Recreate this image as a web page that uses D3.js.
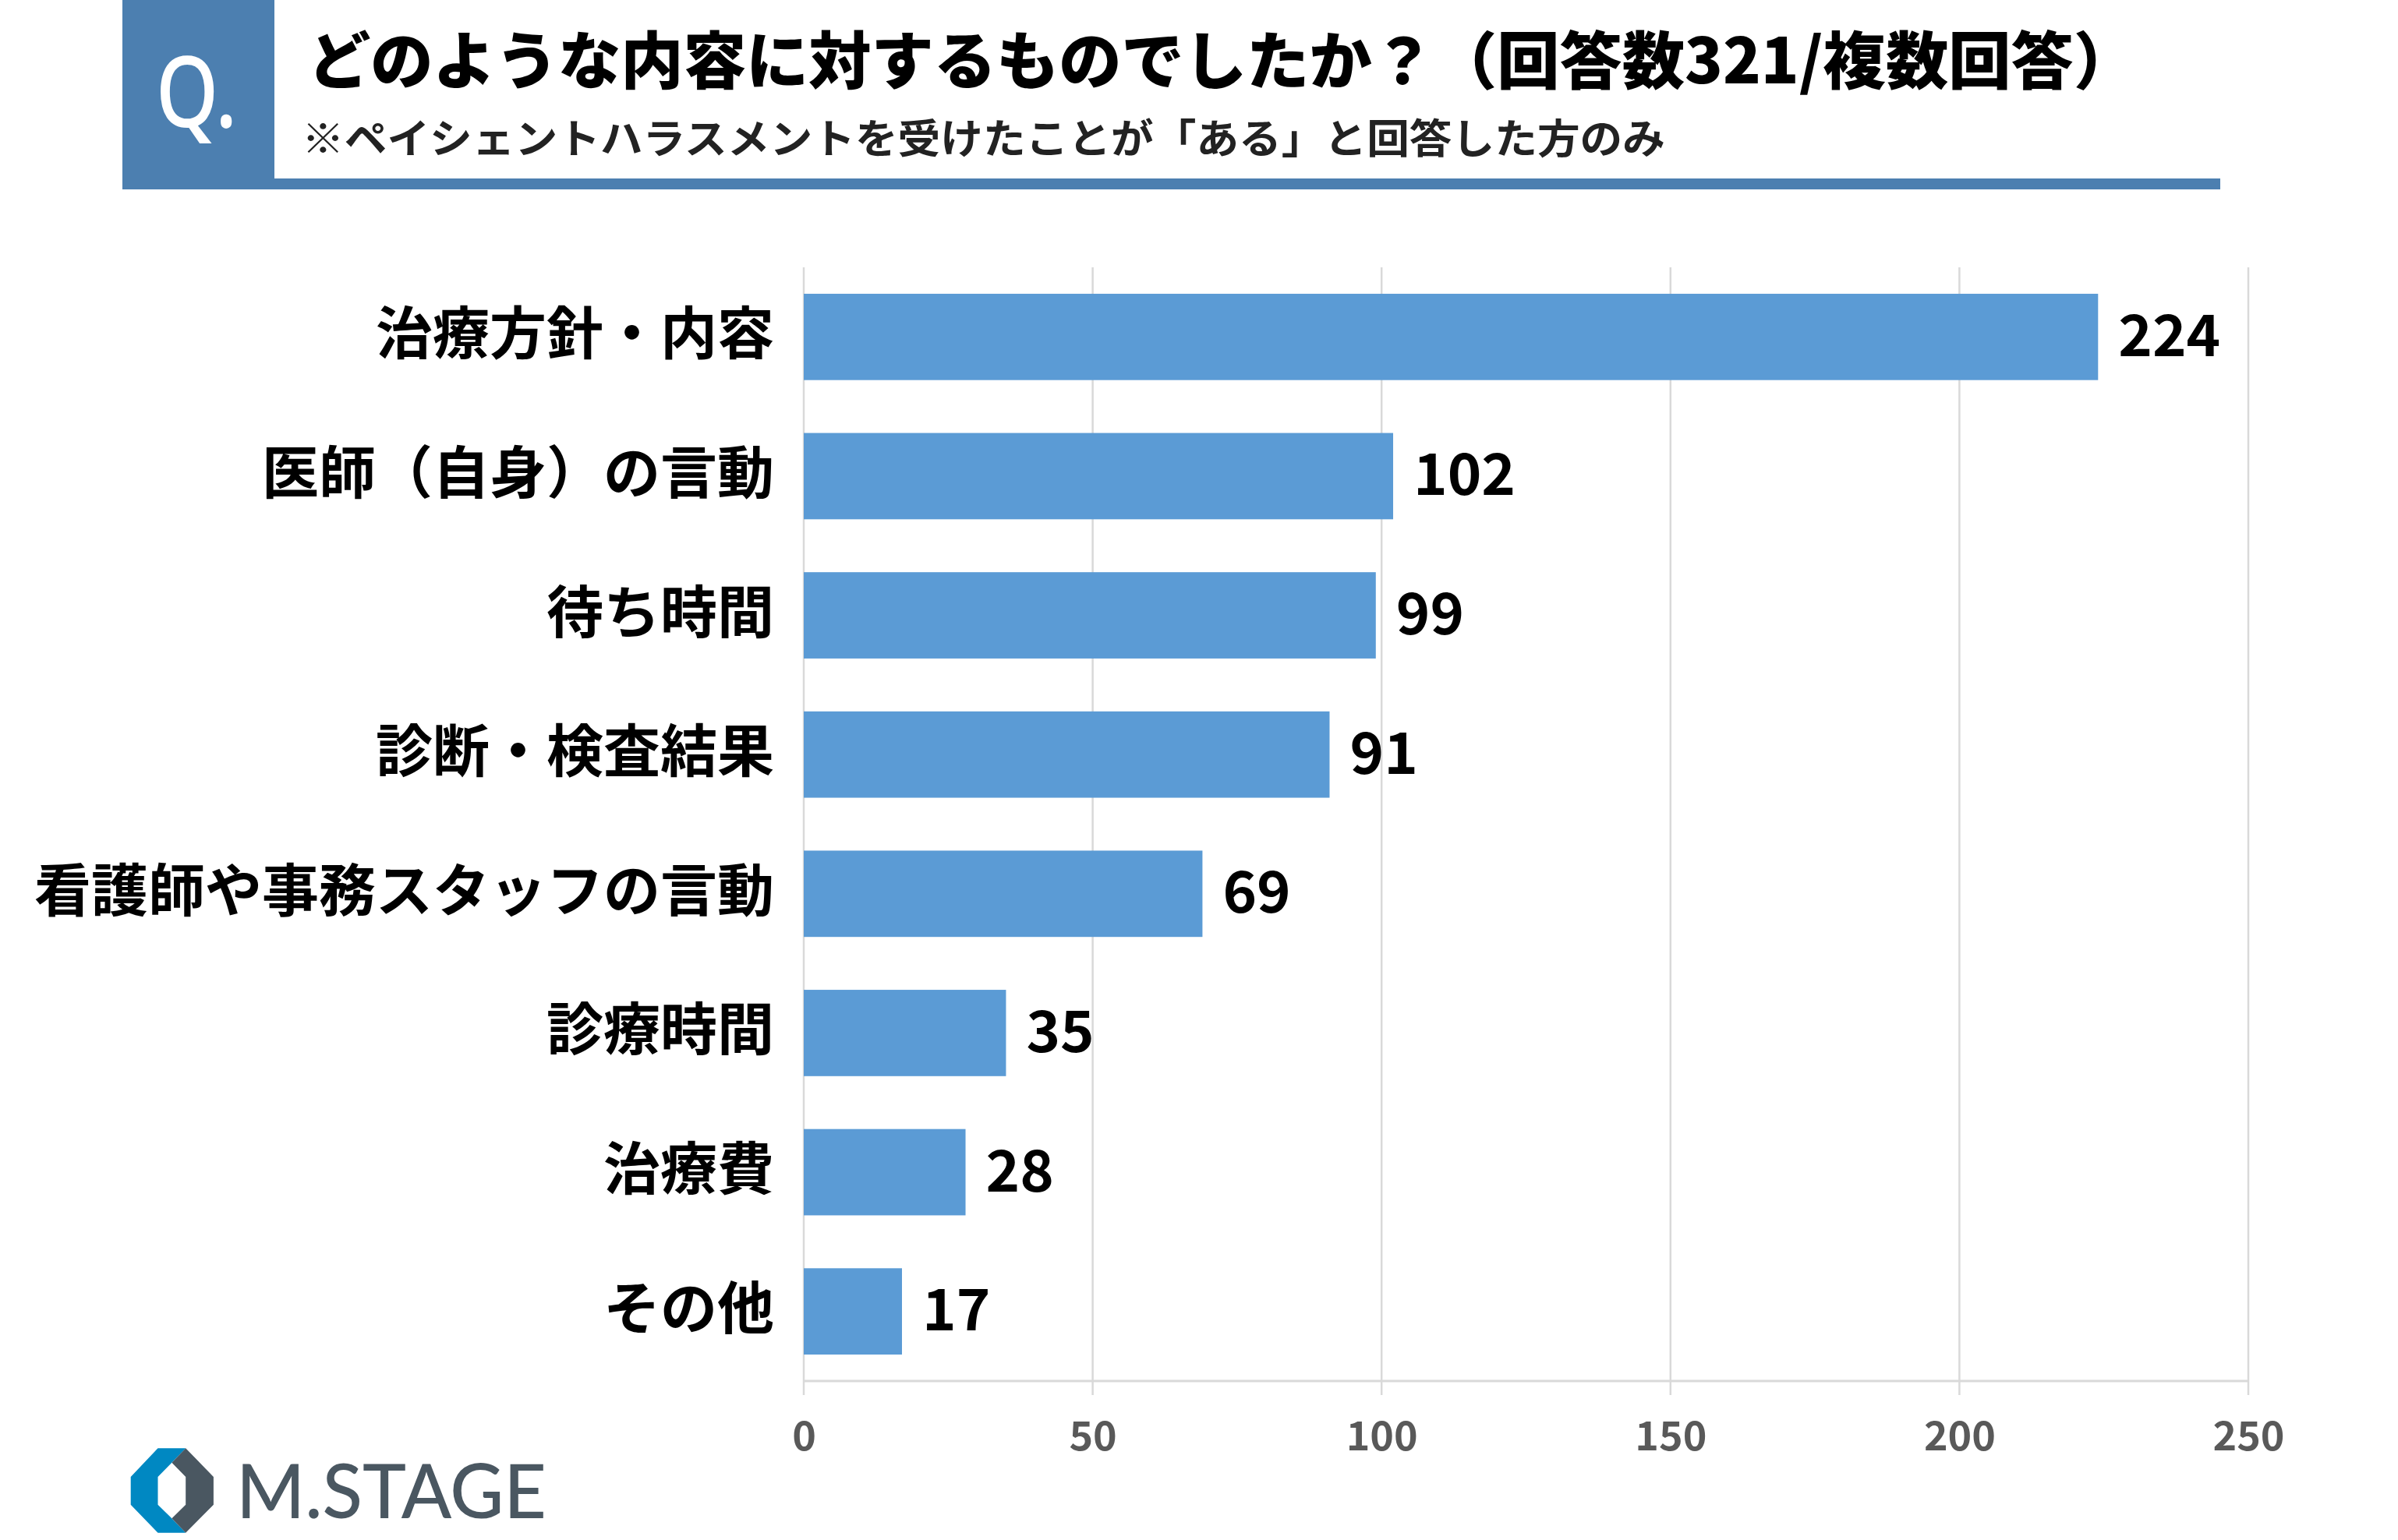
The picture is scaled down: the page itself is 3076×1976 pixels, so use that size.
<!DOCTYPE html>
<html>
<head>
<meta charset="utf-8">
<script src="https://cdn.jsdelivr.net/npm/d3@7"></script>
<style>
html,body{margin:0;padding:0;background:#fff;}
svg{display:block;}
</style>
</head>
<body>
<svg id="chart" width="3076" height="1976"></svg>
<script>
const categories = ["治療方針・内容","医師（自身）の言動","待ち時間","診断・検査結果","看護師や事務スタッフの言動","診療時間","治療費","その他"];
const values = [224,102,99,91,69,35,28,17];
const tickValues = [0,50,100,150,200,250];
const titleText = "どのような内容に対するものでしたか？（回答数321/複数回答）";
const subtitleText = "※ペイシェントハラスメントを受けたことが「ある」と回答した方のみ";

const svg = d3.select("#chart");
const FONT = "'Noto Sans CJK JP','Noto Sans',sans-serif";

// Header
const headerBlue = "#4c7fb0";
svg.append("rect").attr("x",157).attr("y",0).attr("width",195).attr("height",243).attr("fill",headerBlue);
svg.append("rect").attr("x",157).attr("y",229).attr("width",2691).attr("height",14).attr("fill",headerBlue);
svg.append("text").attr("x",200).attr("y",163)
  .attr("font-family","'Noto Sans','Open Sans',sans-serif").attr("font-size",126).attr("font-weight",500)
  .attr("fill","#fff").attr("textLength",104).attr("lengthAdjust","spacingAndGlyphs")
  .text("Q.");
svg.append("text").attr("x",395).attr("y",72).attr("dominant-baseline","central")
  .attr("font-family",FONT).attr("font-weight",900).attr("font-size",80)
  .attr("fill","#000").attr("textLength",2345).attr("lengthAdjust","spacingAndGlyphs")
  .text(titleText);
svg.append("text").attr("x",387).attr("y",174).attr("dominant-baseline","central")
  .attr("font-family",FONT).attr("font-weight",700).attr("font-size",52)
  .attr("fill","#222").attr("textLength",1749).attr("lengthAdjust","spacingAndGlyphs")
  .text(subtitleText);

// Chart
const x = d3.scaleLinear().domain([0,250]).range([1031,2884]);
const y = d3.scaleBand().domain(categories).range([343,1772]).paddingInner(0.38).paddingOuter(0.19);
const plotTop = 343, plotBottom = 1772;

const grid = svg.append("g");
grid.selectAll("line").data(tickValues).join("line")
  .attr("x1",d=>x(d)).attr("x2",d=>x(d))
  .attr("y1",plotTop).attr("y2",plotBottom+18)
  .attr("stroke","#d9d9d9").attr("stroke-width",2.5);

svg.selectAll("rect.bar").data(values).join("rect").attr("class","bar")
  .attr("x",x(0)).attr("y",(d,i)=>y(categories[i]))
  .attr("width",d=>x(d)-x(0)).attr("height",y.bandwidth())
  .attr("fill","#5b9bd5");

// x axis baseline
svg.append("line").attr("x1",x(0)).attr("x2",x(250)).attr("y1",plotBottom).attr("y2",plotBottom)
  .attr("stroke","#d9d9d9").attr("stroke-width",3);

// x axis tick labels
const axis = d3.axisBottom(x).tickValues(tickValues).tickSize(0).tickPadding(0);
const ag = svg.append("g").attr("transform",`translate(0,1838)`).call(axis);
ag.select(".domain").remove();
ag.selectAll("text").attr("dy",null).attr("dominant-baseline","central")
  .attr("font-family",FONT).attr("font-weight",700).attr("font-size",52).attr("fill","#595959");

// category labels
svg.selectAll("text.cat").data(categories).join("text").attr("class","cat")
  .attr("x",993).attr("y",d=>y(d)+y.bandwidth()/2-10)
  .attr("text-anchor","end").attr("dominant-baseline","central")
  .attr("font-family",FONT).attr("font-weight",700).attr("font-size",73).attr("fill","#000")
  .text(d=>d);

// value labels
svg.selectAll("text.val").data(values).join("text").attr("class","val")
  .attr("x",d=>x(d)+26).attr("y",(d,i)=>y(categories[i])+y.bandwidth()/2-8)
  .attr("dominant-baseline","central")
  .attr("font-family",FONT).attr("font-weight",700).attr("font-size",74).attr("fill","#000")
  .text(d=>d);

// Logo
const logo = svg.append("g");
logo.append("polygon").attr("fill","#0088c2")
  .attr("points","202.5,1858.3 238.2,1858.3 220.4,1876.7 202.5,1895 202.5,1930.7 220.4,1948.3 238.2,1966.7 202.5,1966.7 167.7,1930.7 167.7,1895");
logo.append("polygon").attr("fill","#4a5761")
  .attr("points","238.2,1858.3 273.9,1895 273.9,1930.7 238.2,1966.7 220.4,1948.3 238.2,1930.7 238.2,1895 220.4,1876.7");
logo.append("text").attr("x",303).attr("y",1948)
  .attr("font-family","Lato,'Open Sans',sans-serif").attr("font-weight",500).attr("font-size",96)
  .attr("fill","#4a5761").attr("textLength",398).attr("lengthAdjust","spacingAndGlyphs")
  .text("M.STAGE");
</script>
</body>
</html>
